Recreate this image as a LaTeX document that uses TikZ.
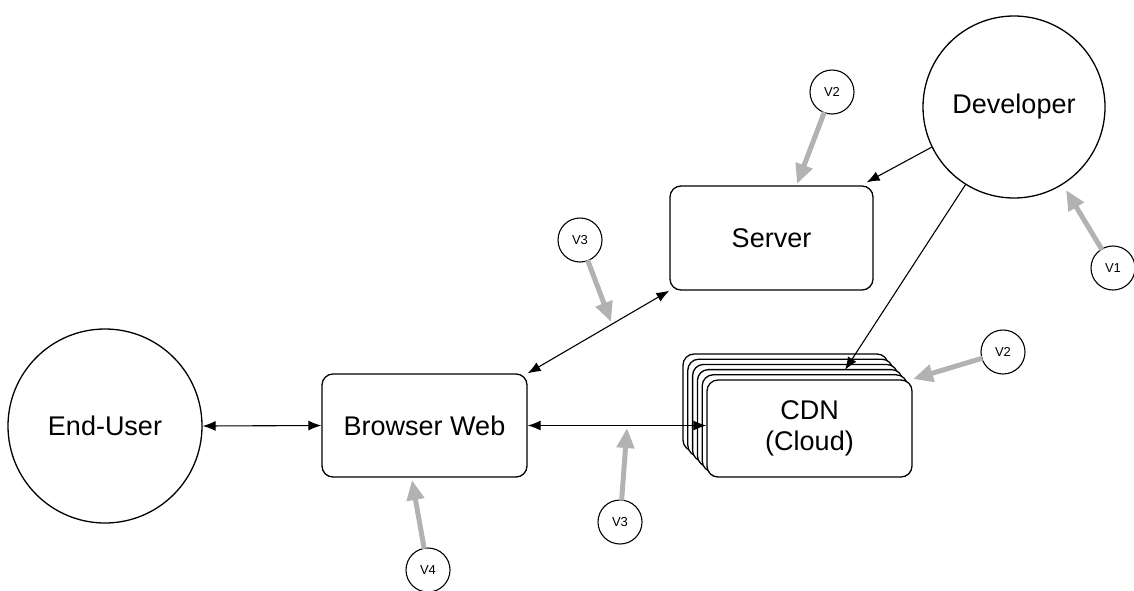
\documentclass[tikz,border=0pt]{standalone}
\usepackage{fontspec}
\setmainfont{Liberation Sans}
\usetikzlibrary{arrows.meta,calc}
\tikzset{
  box/.style={draw=black, line width=1.3pt, rounded corners=11pt, fill=white,
    inner sep=0pt, font=\fontsize{27}{31}\selectfont, align=center},
  actor/.style={circle, draw=black, line width=1.3pt, fill=white, inner sep=0pt,
    font=\fontsize{27}{31}\selectfont},
  tag/.style={circle, draw=black, line width=1.1pt, fill=white, inner sep=0pt,
    minimum size=44pt, font=\fontsize{13}{15}\selectfont},
  link/.style={line width=1.1pt, draw=black},
  tip/.tip={Latex[length=13pt,width=10pt]},
  pointer/.style={draw=black!30, line width=5pt, -{Triangle[length=20pt,width=17pt]}, shorten <=-1pt},
}
\begin{document}
\begin{tikzpicture}[x=1pt,y=-1pt]
\useasboundingbox (0,0) rectangle (1134,590);

% actors
\node[actor, minimum size=194pt] (user) at (105,426) {End-User};
\node[actor, minimum size=182pt] (dev) at (1014,107) {Developer};

% boxes
\node[box, minimum width=205pt, minimum height=103pt] (browser) at (424.5,425.5) {Browser Web};
\node[box, minimum width=203pt, minimum height=104pt] (server) at (771.5,238) {Server};

% CDN: a stack of cards, back to front
\foreach \k in {5,4,3,2,1}{
  \node[box, minimum width=205pt, minimum height=97pt] (cdn\k) at ({809.5-4.8*\k},{428.5-5.2*\k}) {};
}
\node[box, minimum width=205pt, minimum height=97pt] (cdn) at (809.5,428.5) {CDN\\(Cloud)};

% connectors
\draw[link, tip-tip] (user.east) -- (browser.west);
\draw[link, tip-tip] (browser.east) -- (browser.east -| cdn.west);
\draw[link, tip-tip] (browser.north east) -- (server.south west);
\draw[link, -tip] (dev.206) -- ($(server.north east)+(-7,-3)$);
\coordinate (cdntop) at (845,370);
\draw[link, -tip] (dev.238) -- (cdntop);

% version tags
\node[tag] (v2a) at (832,92) {V2};
\node[tag] (v1) at (1113,268) {V1};
\node[tag] (v3a) at (580,240) {V3};
\node[tag] (v2b) at (1003,352) {V2};
\node[tag] (v3b) at (620,522) {V3};
\node[tag] (v4) at (428,570) {V4};

\coordinate (p2a) at (797,184);
\coordinate (p1) at (1066,190);
\coordinate (p3a) at (611,322);
\coordinate (p2b) at (913,379);
\coordinate (p3b) at (627,428);
\coordinate (p4) at (412,480);

\draw[pointer] (v2a) -- (p2a);
\draw[pointer] (v1) -- (p1);
\draw[pointer] (v3a) -- (p3a);
\draw[pointer] (v2b) -- (p2b);
\draw[pointer] (v3b) -- (p3b);
\draw[pointer] (v4) -- (p4);
\end{tikzpicture}
\end{document}
